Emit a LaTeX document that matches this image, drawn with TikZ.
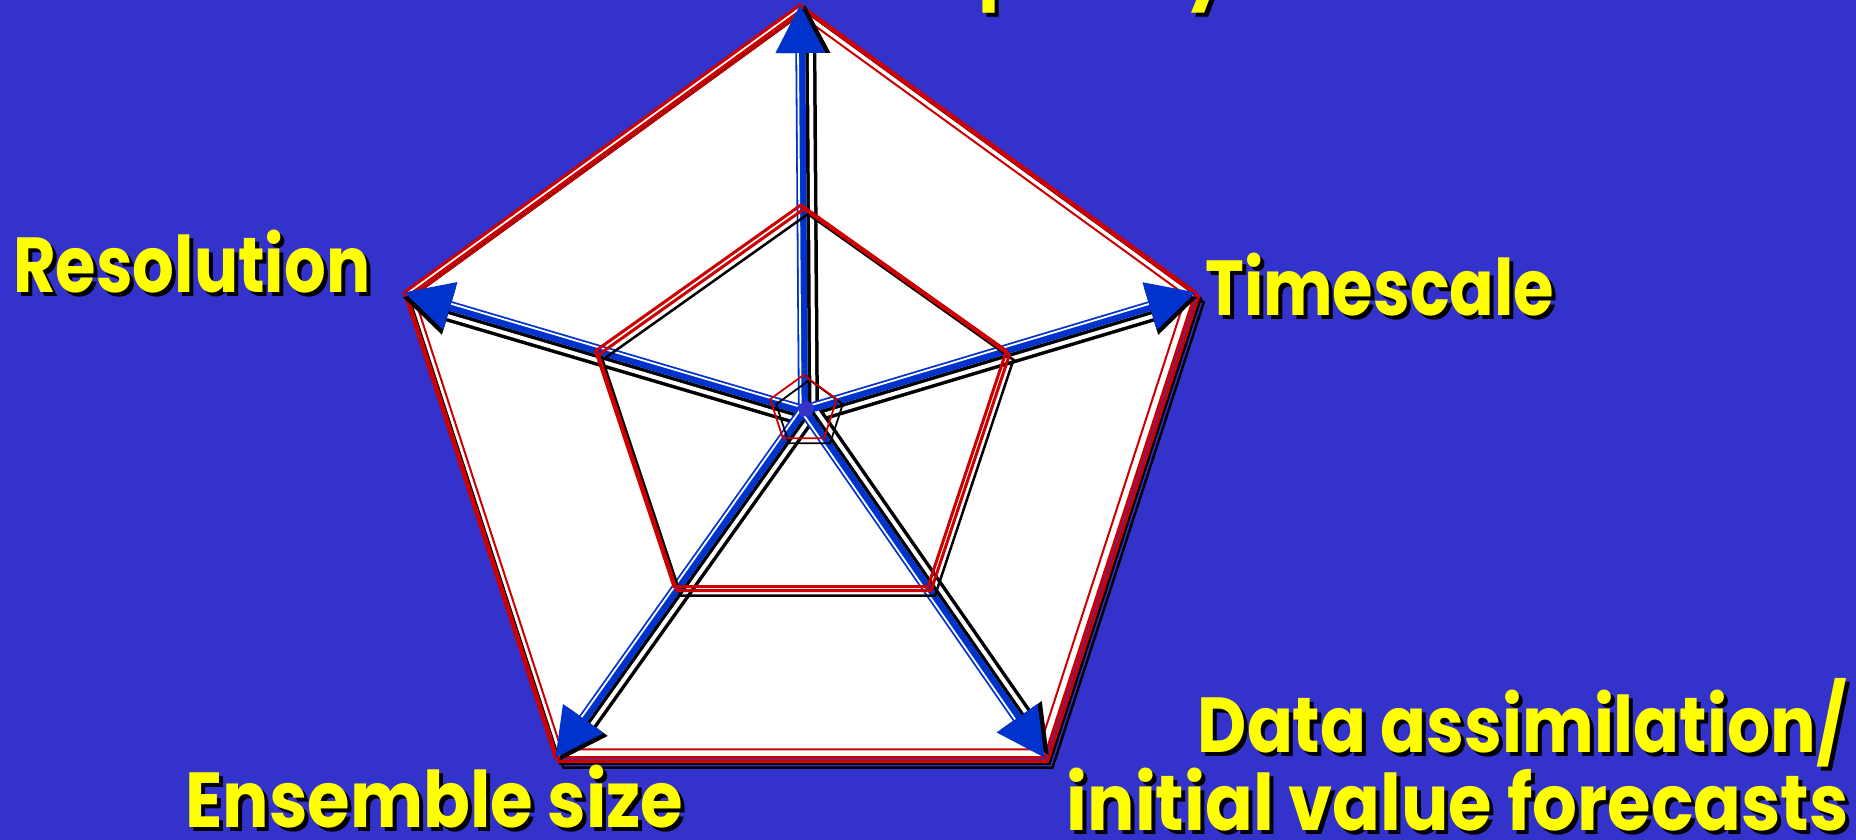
\documentclass[tikz,border=0pt]{standalone}
\usepackage{fontspec}
\usepackage{graphicx}
\newfontfamily\lblfont{Poppins}
\usetikzlibrary{calc}
\definecolor{bgblue}{RGB}{51,51,204}
\definecolor{arrblue}{RGB}{0,51,204}
\definecolor{pred}{RGB}{204,0,0}
\definecolor{lblyellow}{RGB}{255,255,0}
\tikzset{
  pent/.style n args={4}{insert path={({#1},{#2-#4}) -- ({#1+0.9511*#3},{#2-0.309*#4}) -- ({#1+0.5878*#3},{#2+0.809*#4}) -- ({#1-0.5878*#3},{#2+0.809*#4}) -- ({#1-0.9511*#3},{#2-0.309*#4}) -- cycle}},
  lblbase/.style={inner sep=0pt, font={\lblfont\bfseries\fontsize{78pt}{80pt}\selectfont}},
  lbltext/.style={lblbase, text=lblyellow},
  lblshadow/.style={lblbase, text=black},
  redline/.style={draw=pred, line width=3pt, line join=miter},
  redthin/.style={draw=pred, line width=2pt, line join=miter},
  blackline/.style={draw=black, line width=2.5pt, line join=miter},
  shadowshaft/.style={draw=black, line width=3.5pt, double=white, double distance=4pt},
  blueshaft/.style={draw=arrblue, line width=10pt},
  bluecore/.style={draw=white, line width=1.8pt},
}
\newcommand\shlabel[6]{%
  \node[lblshadow,anchor=#4] (#1-s) at ({#2+4},{#3+4}) {\resizebox{#5pt}{\height}{#6}};
  \node[lbltext,anchor=#4] (#1) at (#2,#3) {\resizebox{#5pt}{\height}{#6}};
}
\begin{document}
\begin{tikzpicture}[x=1pt,y=-1pt]
\useasboundingbox (0,0) rectangle (1856,840);
\fill[bgblue] (0,0) rectangle (1856,840);

% title (cut off at the top)
\shlabel{tcomp}{803}{-7}{base west}{426}{Complexity}

% outer pentagon
\path[blackline, pent={808}{431}{416}{416}];
\path[fill=white, pent={800}{421}{416}{416}];
\path[blackline, pent={805}{427}{416}{416}];
\path[redline, pent={803}{425}{416}{416}];
\path[redline, pent={800}{421}{416}{416}];
\path[redthin, pent={800}{421}{406}{406}];

% vertices and centre
\coordinate (ctr) at (803,410);
\coordinate (vT) at (800,5);
\coordinate (vUL) at (404.4,292.4);
\coordinate (vUR) at (1195.6,292.4);
\coordinate (vLL) at (555.5,757.6);
\coordinate (vLR) at (1044.5,757.6);

\foreach \v/\s/\t in {vT/-90/90,vUL/90/-90,vUR/-90/90,vLL/90/-90,vLR/90/-90} {
  \coordinate (\v-e) at ($(\v)!30pt!(ctr)$);
  \coordinate (\v-b) at ($(\v)!48pt!(ctr)$);
  \coordinate (\v-c1) at ($(\v-b)!25pt!90:(\v)$);
  \coordinate (\v-c2) at ($(\v-b)!25pt!-90:(\v)$);
  \coordinate (\v-s10) at ($(ctr)!10.5pt!\s:(\v)$);
  \coordinate (\v-s5) at ($(ctr)!5pt!\s:(\v)$);
  \coordinate (\v-w0) at ($(ctr)!2.3pt!\t:(\v)$);
}
% shadows of arrows
\foreach \v in {vT,vUL,vUR,vLL,vLR} {
  \draw[shadowshaft] (\v-s10) -- ($(\v-e)+(\v-s10)-(ctr)$);
}
\foreach \v in {vT,vUL,vUR,vLL,vLR} {
  \fill[black] ($(\v)+(\v-s5)-(ctr)$) -- ($(\v-c1)+(\v-s5)-(ctr)$) -- ($(\v-c2)+(\v-s5)-(ctr)$) -- cycle;
}
% blue arrows
\foreach \v in {vT,vUL,vUR,vLL,vLR} {
  \draw[blueshaft] (ctr) -- (\v-e);
}
\foreach \v in {vT,vUL,vUR,vLL,vLR} {
  \draw[bluecore] (\v-w0) -- ($(\v-e)+(\v-w0)-(ctr)$);
}
\foreach \v in {vT,vUL,vUR,vLL,vLR} {
  \fill[arrblue] (\v) -- (\v-c1) -- (\v-c2) -- cycle;
}

% middle pentagon
\path[blackline, pent={808}{425}{216}{211}];
\path[redline, pent={804}{420}{216}{211}];
\path[redline, pent={801}{416}{216}{211}];

% inner pentagon
\path[blackline, line width=1.8pt, pent={809.5}{415}{35}{35}];
\path[redline, line width=1.8pt, pent={803.5}{410}{35}{35}];
\path[fill=bgblue, pent={806}{409}{9}{9}];

% labels
\shlabel{tres}{13}{292}{base west}{357}{Resolution}
\shlabel{ttime}{1205}{315}{base west}{349}{Timescale}
\shlabel{tens}{185}{827}{base west}{498}{Ensemble size}
\shlabel{tdata}{1847}{752}{base east}{649}{Data assimilation/}
\shlabel{tinit}{1849}{830}{base east}{782}{initial value forecasts}
\end{tikzpicture}
\end{document}
